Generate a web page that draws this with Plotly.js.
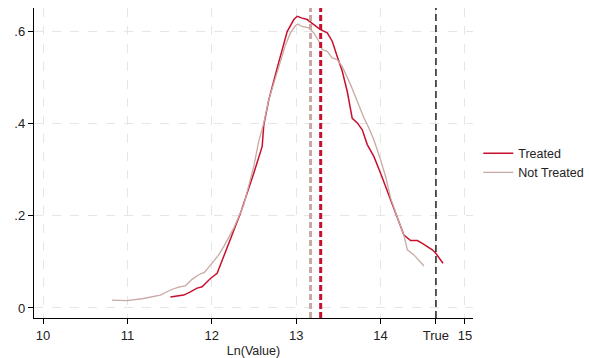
<!DOCTYPE html>
<html>
<head>
<meta charset="utf-8">
<script src="https://cdn.plot.ly/plotly-3.0.1.min.js"></script>
<style>html,body{margin:0;padding:0;background:#fff;}#chart{width:589px;height:358px;}</style>
</head>
<body>
<div id="chart"></div>
<script>
// Density of Ln(Value) — Treated
const treatedX = [11.509,11.667,11.746,11.826,11.885,11.984,12.063,12.141,12.221,12.339,12.497,12.597,12.616,12.675,12.775,12.893,12.972,13.012,13.071,13.130,13.209,13.288,13.368,13.427,13.486,13.546,13.605,13.664,13.724,13.783,13.842,13.921,14.000,14.059,14.119,14.158,14.217,14.276,14.356,14.435,14.495,14.554,14.613,14.652,14.692,14.739];
const treatedY = [0.024,0.028,0.035,0.043,0.046,0.064,0.075,0.111,0.147,0.205,0.292,0.350,0.397,0.451,0.520,0.599,0.625,0.632,0.628,0.625,0.614,0.603,0.596,0.578,0.545,0.513,0.469,0.411,0.401,0.386,0.354,0.328,0.292,0.263,0.238,0.216,0.187,0.158,0.146,0.146,0.140,0.133,0.126,0.119,0.110,0.097];
// Density of Ln(Value) — Not Treated
const notTreatedX = [10.817,10.995,11.173,11.311,11.390,11.509,11.607,11.687,11.766,11.845,11.912,11.984,12.082,12.141,12.212,12.260,12.378,12.497,12.556,12.616,12.675,12.775,12.873,12.932,12.992,13.019,13.071,13.149,13.209,13.268,13.308,13.368,13.427,13.486,13.546,13.644,13.724,13.802,13.861,13.921,14.000,14.059,14.119,14.158,14.217,14.276,14.317,14.395,14.454,14.514];
const notTreatedY = [0.017,0.016,0.020,0.025,0.028,0.039,0.045,0.048,0.062,0.072,0.077,0.093,0.115,0.133,0.155,0.173,0.223,0.307,0.361,0.401,0.451,0.513,0.570,0.596,0.612,0.615,0.610,0.607,0.596,0.578,0.560,0.556,0.542,0.538,0.523,0.484,0.448,0.412,0.390,0.364,0.321,0.285,0.238,0.216,0.187,0.158,0.126,0.115,0.104,0.091];
// Reference lines
const meanTreated = 13.29;
const meanNotTreated = 13.17;
const trueValue = 14.656;
// Axis ticks
const xTickVals = [10, 11, 12, 13, 14, trueValue, 15];
const xTickText = ["10", "11", "12", "13", "14", "True", "15"];
const yTickVals = [0, 0.2, 0.4, 0.6];
const yTickText = ["0", ".2", ".4", ".6"];

const RED = "#c8102e";
const TAN = "#c9a9a3";

const traces = [
  {x: treatedX, y: treatedY, type: "scatter", mode: "lines", name: "Treated",
   line: {color: RED, width: 1.5}},
  {x: notTreatedX, y: notTreatedY, type: "scatter", mode: "lines", name: "Not Treated",
   line: {color: TAN, width: 1.3}}
];

const layout = {
  width: 589, height: 358,
  margin: {l: 34, r: 116, t: 8, b: 40, autoexpand: false},
  paper_bgcolor: "#fff", plot_bgcolor: "#fff",
  font: {family: "Liberation Sans, Arial, sans-serif", size: 13, color: "#222"},
  showlegend: true,
  legend: {x: 1.012, y: 0.5, xanchor: "left", yanchor: "middle", font: {size: 12.5, color: "#222"},
           bgcolor: "rgba(0,0,0,0)", borderwidth: 0, tracegroupgap: 0},
  xaxis: {
    range: [9.893, 15.095], tickmode: "array", tickvals: xTickVals, ticktext: xTickText,
    showline: true, linecolor: "#000", linewidth: 1.2, ticks: "outside", ticklen: 5, tickcolor: "#000",
    showgrid: true, gridcolor: "#e6e6e6", griddash: "dash", gridwidth: 1, zeroline: false,
    title: {text: "Ln(Value)", font: {size: 12.5}, standoff: 4}
  },
  yaxis: {
    range: [-0.0217, 0.65], tickmode: "array", tickvals: yTickVals, ticktext: yTickText,
    showline: true, linecolor: "#000", linewidth: 1.2, ticks: "outside", ticklen: 5, tickcolor: "#000",
    showgrid: true, gridcolor: "#e6e6e6", griddash: "dash", gridwidth: 1, zeroline: false
  },
  shapes: [
    {type: "line", xref: "x", yref: "paper", x0: meanNotTreated, x1: meanNotTreated, y0: 0, y1: 1,
     line: {color: TAN, width: 3, dash: "6px,3px"}},
    {type: "line", xref: "x", yref: "paper", x0: meanTreated, x1: meanTreated, y0: 0, y1: 1,
     line: {color: RED, width: 3, dash: "6px,3px"}},
    {type: "line", xref: "x", yref: "paper", x0: trueValue, x1: trueValue, y0: 0, y1: 1,
     line: {color: "#000", width: 1.3, dash: "7px,4px"}}
  ]
};

Plotly.newPlot("chart", traces, layout, {displayModeBar: false, staticPlot: true});
</script>
</body>
</html>
